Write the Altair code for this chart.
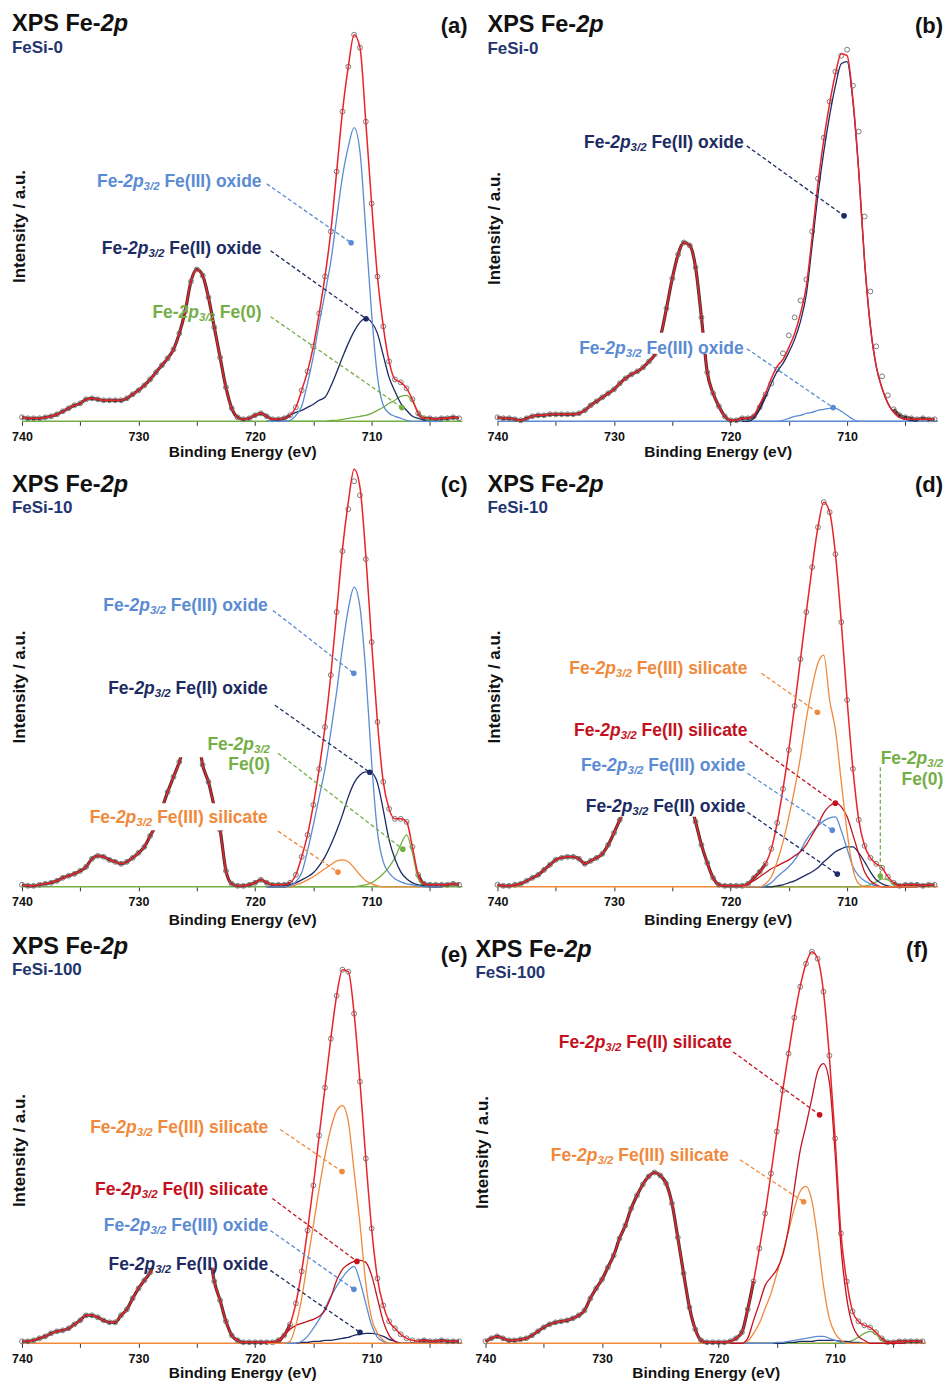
import altair as alt
import pandas as pd

W = 441
E_HI, E_LO = 740.0, 702.2
PX = W / (E_HI - E_LO)
FONT = "Liberation Sans"

ENERGY = [740.0, 739.5, 739.0, 738.5, 738.0, 737.5, 737.0, 736.5, 736.0, 735.5,
          735.0, 734.5, 734.0, 733.5, 733.0, 732.5, 732.0, 731.5, 731.0, 730.5,
          730.0, 729.5, 729.0, 728.5, 728.0, 727.5, 727.0, 726.5, 726.0, 725.5,
          725.0, 724.5, 724.0, 723.5, 723.0, 722.5, 722.0, 721.5, 721.0, 720.5,
          720.0, 719.5, 719.0, 718.5, 718.0, 717.5, 717.0, 716.5, 716.0, 715.5,
          715.0, 714.5, 714.0, 713.5, 713.0, 712.5, 712.0, 711.5, 711.0, 710.5,
          710.0, 709.5, 709.0, 708.5, 708.0, 707.5, 707.0, 706.5, 706.0, 705.5,
          705.0, 704.5, 704.0, 703.5, 703.0, 702.5]
SUB = [719.0, 718.5, 718.0, 717.5, 717.0, 716.5, 716.0, 715.5, 715.0, 714.5,
       714.0, 713.5, 713.0, 712.5, 712.0, 711.5, 711.0, 710.5, 710.0, 709.5,
       709.0, 708.5, 708.0, 707.5, 707.0, 706.5, 706.0, 705.5, 705.0, 704.5, 704.0]

# ---------------- panel (a) FeSi-0 ----------------
A_DATA = [4, 3, 3, 3, 4, 5, 7, 10, 13, 16,
          18, 22, 23, 22, 21, 21, 21, 21, 23, 27,
          31, 36, 42, 49, 56, 63, 72, 88, 110, 140,
          152, 146, 124, 94, 64, 34, 13, 4, 2, 3,
          6, 8, 5, 2, 2, 3, 6, 14, 31, 50,
          75, 108, 145, 190, 250, 310, 355, 387, 374, 300,
          218, 145, 95, 60, 42, 39, 33, 22, 8, 3,
          3, 2, 3, 3, 4, 3]
A_FE3OX = [0, 0, 0, 0, 1, 6, 15, 38, 65, 98, 128, 160, 203, 245, 275, 294,
           270, 191, 108, 45, 16, 8, 5, 3, 1, 0, 0, 0, 0, 0, 0]
A_FE2OX = [0, 0, 1, 3, 6, 9, 11, 14, 17, 21, 24, 35, 49, 64, 78, 90,
           99, 103, 99, 88, 66, 44, 30, 18, 11, 5, 3, 1, 0, 0, 0]
A_FE0 = [0, 0, 0, 0, 0, 0, 0, 0, 0, 0, 0, 1, 1, 2, 3, 4,
         5, 6, 8, 11, 14, 18, 21, 25, 26, 20, 9, 3, 1, 0, 0]

# ---------------- panel (b) FeSi-0 ----------------
B_DATA = [4, 3, 3, 2, 1, 3, 5, 6, 6, 7,
          7, 7, 7, 7, 8, 11, 16, 20, 24, 28,
          32, 38, 43, 47, 50, 54, 60, 67, 85, 113,
          143, 167, 179, 176, 154, 104, 49, 28, 15, 5,
          1, 1, 3, 3, 5, 14, 27, 38, 52, 68,
          86, 104, 121, 142, 190, 243, 284, 320, 350, 366,
          372, 336, 290, 205, 130, 75, 45, 26, 12, 6,
          4, 3, 2, 3, 2, 2]
B_ENV = [4, 3, 3, 2, 1, 3, 5, 6, 6, 7,
         7, 7, 7, 7, 8, 11, 16, 20, 24, 28,
         32, 38, 43, 47, 50, 54, 60, 67, 85, 113,
         143, 167, 179, 176, 154, 104, 49, 28, 15, 5,
         1, 1, 3, 3, 6, 17, 28, 43, 55, 62,
         74, 88, 108, 135, 185, 238, 282, 318, 348, 368,
         366, 322, 250, 160, 95, 55, 33, 18, 9, 4,
         2, 2, 2, 2, 2, 2]
B_FE2OX = [0, 0, 3, 12, 24, 38, 50, 58, 69, 82, 100, 127, 176, 227, 270, 306,
           336, 358, 360, 320, 250, 160, 95, 55, 33, 18, 9, 4, 2, 1, 0]
B_FE3OX = [0, 0, 0, 0, 0, 0, 0, 1, 3, 5, 6, 8, 9, 11, 12, 13,
           13, 10, 6, 2, 0, 0, 0, 0, 0, 0, 0, 0, 0, 0, 0]

# ---------------- panel (c) FeSi-10 ----------------
C_DATA = [2, 1, 1, 2, 3, 4, 6, 9, 11, 13,
          16, 20, 28, 31, 30, 27, 25, 23, 25, 29,
          34, 40, 51, 62, 78, 95, 110, 125, 145, 165,
          158, 122, 105, 80, 57, 16, 3, 1, 1, 2,
          4, 7, 4, 2, 2, 2, 4, 12, 30, 52,
          82, 118, 160, 212, 275, 336, 378, 406, 392, 328,
          245, 165, 105, 78, 68, 68, 65, 40, 12, 3,
          2, 2, 2, 2, 3, 2]
C_ENV = [2, 1, 1, 2, 3, 4, 6, 9, 11, 13,
         16, 20, 28, 31, 30, 27, 25, 23, 25, 29,
         34, 40, 51, 62, 78, 95, 110, 125, 145, 165,
         158, 122, 105, 80, 57, 16, 3, 1, 1, 2,
         4, 7, 4, 2, 2, 2, 4, 12, 30, 52,
         82, 118, 160, 212, 275, 338, 385, 418, 400, 332,
         245, 165, 105, 78, 68, 68, 65, 40, 12, 3,
         2, 2, 2, 2, 3, 2]
C_FE3OX = [0, 0, 0, 0, 1, 5, 14, 36, 62, 90, 118, 155, 195, 240, 278, 300,
           280, 215, 125, 55, 25, 14, 8, 5, 3, 2, 1, 0, 0, 0, 0]
C_FE2OX = [0, 0, 0, 0, 2, 4, 7, 10, 14, 21, 30, 42, 56, 72, 90, 104,
           112, 115, 114, 104, 77, 47, 28, 15, 8, 4, 2, 1, 0, 0, 0]
C_FE0 = [0, 0, 0, 0, 0, 0, 0, 0, 0, 0, 0, 0, 0, 0, 0, 0,
         1, 2, 4, 8, 13, 20, 29, 42, 52, 34, 8, 1, 0, 0, 0]
C_FE3SIL = [0, 0, 0, 0, 0, 2, 4, 7, 10, 14, 18, 22, 26, 27, 25, 19,
            12, 6, 3, 1, 0, 0, 0, 0, 0, 0, 0, 0, 0, 0, 0]

# ---------------- panel (d) FeSi-10 ----------------
D_DATA = [2, 1, 1, 2, 3, 6, 9, 12, 17, 22,
          27, 29, 30, 30, 28, 23, 26, 29, 33, 42,
          54, 67, 80, 97, 112, 130, 148, 162, 170, 172,
          166, 150, 115, 88, 65, 42, 24, 9, 2, 1,
          1, 1, 1, 3, 9, 15, 23, 38, 64, 98,
          137, 181, 228, 275, 320, 360, 385, 375, 333, 265,
          187, 118, 67, 41, 29, 23, 19, 10, 4, 1,
          2, 2, 2, 1, 2, 2]
D_FE3SIL = [0, 0, 0, 0, 3, 10, 25, 45, 70, 98, 130, 168, 200, 224, 232, 187,
            157, 105, 55, 18, 3, 0, 0, 0, 0, 0, 0, 0, 0, 0, 0]
D_FE2SIL = [0, 3, 6, 10, 14, 18, 21, 24, 27, 31, 35, 42, 52, 62, 74, 81,
            84, 80, 70, 52, 33, 15, 6, 2, 0, 0, 0, 0, 0, 0, 0]
D_FE3OX = [0, 0, 0, 0, 1, 4, 10, 15, 20, 27, 36, 47, 55, 61, 66, 69,
           70, 56, 38, 20, 11, 6, 3, 1, 0, 0, 0, 0, 0, 0, 0]
D_FE2OX = [0, 0, 0, 0, 0, 0, 1, 2, 4, 6, 9, 12, 15, 19, 25, 30,
           35, 38, 40, 40, 34, 25, 15, 7, 3, 1, 0, 0, 0, 0, 0]
D_FE0 = [0, 0, 0, 0, 0, 0, 0, 0, 0, 0, 0, 0, 0, 0, 0, 0,
         0, 0, 0, 0, 0, 1, 2, 5, 8, 7, 2, 0, 0, 0, 0]

# ---------------- panel (e) FeSi-100 ----------------
E_DATA = [2, 2, 3, 5, 7, 10, 12, 13, 15, 19,
          23, 28, 28, 26, 23, 21, 21, 28, 34, 45,
          55, 63, 71, 84, 100, 120, 140, 155, 162, 160,
          148, 125, 98, 62, 43, 22, 8, 3, 1, 1,
          1, 1, 1, 1, 3, 8, 19, 40, 72, 113,
          158, 208, 256, 305, 348, 374, 372, 330, 262, 185,
          115, 65, 38, 22, 15, 9, 5, 3, 2, 3,
          2, 2, 3, 2, 2, 2]
E_FE3SIL = [0, 0, 0, 0, 2, 18, 45, 82, 118, 155, 188, 215, 233, 238, 222, 172,
            120, 60, 25, 10, 3, 0, 0, 0, 0, 0, 0, 0, 0, 0, 0]
E_FE2SIL = [0, 0, 0, 8, 14, 18, 20, 22, 24, 27, 33, 46, 63, 74, 79, 82,
            83, 81, 68, 45, 22, 8, 2, 0, 0, 0, 0, 0, 0, 0, 0]
E_FE3OX = [0, 0, 0, 0, 0, 0, 2, 7, 15, 24, 35, 47, 57, 66, 73, 77,
           62, 40, 18, 6, 2, 0, 0, 0, 0, 0, 0, 0, 0, 0, 0]
E_FE2OX = [0, 0, 0, 0, 0, 0, 1, 1, 2, 2, 3, 3, 4, 5, 6, 8,
           9, 10, 10, 9, 7, 4, 2, 0, 0, 0, 0, 0, 0, 0, 0]

# ---------------- panel (f) FeSi-100 ----------------
F_DATA = [2, 5, 7, 5, 3, 3, 4, 5, 8, 12,
          16, 19, 21, 22, 23, 25, 28, 33, 45, 55,
          64, 76, 88, 105, 118, 135, 148, 159, 167, 171,
          168, 160, 140, 106, 70, 36, 14, 3, 1, 1,
          1, 1, 2, 5, 11, 34, 62, 95, 130, 170,
          212, 253, 290, 326, 357, 380, 392, 385, 352, 288,
          205, 110, 62, 32, 22, 18, 16, 11, 5, 1,
          1, 2, 2, 2, 2, 2]
F_FE2SIL = [0, 0, 0, 5, 23, 40, 58, 66, 74, 88, 115, 155, 193, 218, 245, 272,
            280, 262, 190, 97, 45, 18, 7, 3, 0, 0, 0, 0, 0, 0, 0]
F_FE3SIL = [0, 0, 0, 2, 10, 20, 35, 50, 70, 90, 112, 135, 152, 157, 143, 105,
            58, 25, 10, 3, 0, 0, 0, 0, 0, 0, 0, 0, 0, 0, 0]
F_FE3OX = [0, 0, 0, 0, 0, 0, 0, 0, 1, 1, 2, 3, 4, 5, 6, 7,
           7, 5, 3, 1, 0, 0, 0, 0, 0, 0, 0, 0, 0, 0, 0]
F_FE2OX = [0, 0, 0, 0, 0, 0, 0, 0, 0, 0, 1, 1, 2, 2, 2, 3,
           3, 3, 3, 2, 2, 1, 1, 0, 0, 0, 0, 0, 0, 0, 0]
F_FE0 = [0, 0, 0, 0, 0, 0, 0, 0, 0, 0, 0, 0, 0, 0, 0, 0,
         0, 0, 0, 0, 1, 3, 6, 10, 12, 9, 3, 0, 0, 0, 0]

for arr in [A_DATA, B_DATA, B_ENV, C_DATA, C_ENV, D_DATA, E_DATA, F_DATA]:
    assert len(arr) == len(ENERGY)
for arr in [A_FE3OX, A_FE2OX, A_FE0, B_FE2OX, B_FE3OX, C_FE3OX, C_FE2OX, C_FE0,
            C_FE3SIL, D_FE3SIL, D_FE2SIL, D_FE3OX, D_FE2OX, D_FE0, E_FE3SIL,
            E_FE2SIL, E_FE3OX, E_FE2OX, F_FE2SIL, F_FE3SIL, F_FE3OX, F_FE2OX, F_FE0]:
    assert len(arr) == len(SUB)

# ---------------- styles ----------------
COL = {"Fe(III) oxide": "#5b8bd3", "Fe(II) oxide": "#1c2b62", "Fe(0)": "#74af46",
       "Fe(III) silicate": "#f0893b", "Fe(II) silicate": "#c3121d"}
RED = "#e8232a"
NAVY = "#1f3670"
INK = "#111111"

CW = {' ': 278, '(': 333, ')': 333, '-': 333, '/': 278, '.': 278,
      'A': 722, 'B': 722, 'C': 722, 'D': 722, 'E': 667, 'F': 611, 'G': 778, 'H': 722,
      'I': 278, 'J': 556, 'K': 722, 'L': 611, 'M': 833, 'N': 722, 'O': 778, 'P': 667,
      'Q': 778, 'R': 722, 'S': 667, 'T': 611, 'U': 722, 'V': 667, 'W': 944, 'X': 667,
      'Y': 667, 'Z': 611, 'a': 556, 'b': 611, 'c': 556, 'd': 611, 'e': 556, 'f': 333,
      'g': 611, 'h': 611, 'i': 278, 'j': 278, 'k': 556, 'l': 278, 'm': 889, 'n': 611,
      'o': 611, 'p': 611, 'q': 611, 'r': 389, 's': 556, 't': 333, 'u': 611, 'v': 556,
      'w': 778, 'x': 556, 'y': 556, 'z': 500}


def tw(s, size):
    return sum(CW.get(ch, 556) for ch in s) * size / 1000.0


LS, SS = 17.5, 11.5
SIZES = {"n": LS, "i": LS, "s": SS}


def chem(name):
    return [("Fe-", "n"), ("2p", "i"), ("3/2", "s"), (" " + name, "n")]


FE0_L1 = [("Fe-", "n"), ("2p", "i"), ("3/2", "s")]
FE0_L2 = [("Fe(0)", "n")]


def label_rows(tokens, e_right, h, color):
    total = sum(tw(t, SIZES[st]) for t, st in tokens)
    cur = -total
    rows = []
    for t, st in tokens:
        s = t.lstrip(" ")
        lead = tw(t[: len(t) - len(s)], SIZES[st])
        rows.append(dict(x=e_right - (cur + lead) / PX, y=h, t=s, c=color,
                         s=SIZES[st], st=st))
        cur += tw(t, SIZES[st])
    return rows


def seq_rows(tokens, left_px, rel_y, H):
    # left_px is measured from the 740 eV position
    rows = []
    cur = left_px
    for t, st, size, color in tokens:
        rows.append(dict(x=E_HI - cur / PX, y=H - rel_y, t=t, c=color, s=size, st=st))
        cur += tw(t, size)
    return rows


def title_rows(H, ty, sample, sy, tag, tag_right, tagy):
    rows = seq_rows([("XPS Fe-", "n", 23.5, INK), ("2p", "i", 23.5, INK)], -10, ty, H)
    rows += seq_rows([(sample, "n", 17, NAVY)], -10, sy, H)
    rows += seq_rows([(tag, "n", 22, INK)], tag_right - tw(tag, 22), tagy, H)
    return rows


def make_panel(H, data, env, comps, base_color, labels, leaders, occ, tp,
               titles, ytitle_y, lead=0):
    e_left = E_HI + lead / PX
    xs = alt.Scale(domain=[E_LO, e_left], reverse=True, nice=False, zero=False)
    ys = alt.Scale(domain=[0, H], nice=False, zero=False)
    xa = alt.Axis(values=[740, 735, 730, 725, 720, 715, 710, 705],
                  labelExpr="datum.value % 10 == 0 ? datum.label : ''",
                  title="Binding Energy (eV)", grid=False, domain=False, tickSize=4,
                  tickColor="#333333", labelFont=FONT,
                  labelFontSize=12.5, labelFontWeight="bold", labelColor=INK,
                  labelPadding=5, labelFlush=False, labelOverlap=False,
                  titleFont=FONT, titleFontSize=15.5, titleFontWeight="bold",
                  titleColor=INK, titlePadding=tp, titleX=lead + W / 2)

    def X(f):
        return alt.X(f, type="quantitative", scale=xs, axis=xa)

    def Y(f):
        return alt.Y(f, type="quantitative", scale=ys, axis=None)

    meas = pd.DataFrame({"E": ENERGY, "h": data})
    envdf = pd.DataFrame({"E": ENERGY, "h": env})
    crow = []
    for name, vals in comps:
        for e, v in zip(SUB, vals):
            crow.append(dict(E=e, h=v, comp=name, c=COL[name]))
    compdf = pd.DataFrame(crow)

    layers = []
    layers.append(
        alt.Chart(pd.DataFrame({"x1": [E_HI], "x2": [E_LO], "y": [0]}))
        .mark_rule(color=base_color, strokeWidth=1.4)
        .encode(x=X("x1"), x2="x2", y=Y("y")))
    layers.append(
        alt.Chart(meas)
        .transform_calculate(seg="datum.E >= 717 ? 'L' : (datum.E <= 706 ? 'R' : 'M')")
        .transform_filter("datum.seg != 'M'")
        .mark_line(color="#4a3232", strokeWidth=3.2, interpolate="monotone")
        .encode(x=X("E"), y=Y("h"), detail="seg:N"))
    layers.append(
        alt.Chart(meas)
        .mark_point(shape="circle", filled=False, size=24, color="#7a7a7a",
                    strokeWidth=1, opacity=1)
        .encode(x=X("E"), y=Y("h")))
    layers.append(
        alt.Chart(compdf)
        .mark_line(strokeWidth=1.3, interpolate="monotone")
        .encode(x=X("E"), y=Y("h"), color=alt.Color("c:N", scale=None),
                detail="comp:N"))
    layers.append(
        alt.Chart(envdf)
        .mark_line(color=RED, strokeWidth=1.5, interpolate="monotone")
        .encode(x=X("E"), y=Y("h")))
    if occ:
        occdf = pd.DataFrame(occ, columns=["x1", "x2", "y1", "y2"])
        layers.append(
            alt.Chart(occdf).mark_rect(color="white", opacity=1)
            .encode(x=X("x1"), x2="x2", y=Y("y1"), y2="y2"))
    leaddf = pd.DataFrame(leaders, columns=["x1", "y1", "x2", "y2", "c"])
    layers.append(
        alt.Chart(leaddf).mark_rule(strokeDash=[4, 2.5], strokeWidth=1.3)
        .encode(x=X("x1"), x2="x2", y=Y("y1"), y2="y2",
                color=alt.Color("c:N", scale=None)))
    layers.append(
        alt.Chart(leaddf).mark_circle(size=32, opacity=1)
        .encode(x=X("x2"), y=Y("y2"), color=alt.Color("c:N", scale=None)))

    trows = []
    for tokens, er, h, color in labels:
        trows += label_rows(tokens, er, h, color)
    trows += titles
    tdf = pd.DataFrame(trows)
    for st, style, dy in [("n", "normal", 0), ("i", "italic", 0), ("s", "italic", 5)]:
        sub = tdf[tdf["st"] == st]
        if len(sub) == 0:
            continue
        layers.append(
            alt.Chart(sub)
            .mark_text(align="left", baseline="middle", font=FONT, fontWeight="bold",
                       fontStyle=style, dy=dy)
            .encode(x=X("x"), y=Y("y"), text="t:N",
                    color=alt.Color("c:N", scale=None),
                    size=alt.Size("s:Q", scale=None)))
    layers.append(
        alt.Chart(pd.DataFrame({"t": ["Intensity / a.u."]}))
        .mark_text(angle=270, align="center", baseline="middle", font=FONT,
                   fontWeight="bold", fontSize=17, color=INK)
        .encode(text="t:N", x=alt.value(lead - 2), y=alt.value(ytitle_y)))
    return alt.layer(*layers).properties(width=W + lead, height=H)


C3, C2, C0 = COL["Fe(III) oxide"], COL["Fe(II) oxide"], COL["Fe(0)"]
S3, S2 = COL["Fe(III) silicate"], COL["Fe(II) silicate"]

H1, H2, H3 = 413, 422, 413

pa = make_panel(
    H1, A_DATA, A_DATA,
    [("Fe(0)", A_FE0), ("Fe(II) oxide", A_FE2OX), ("Fe(III) oxide", A_FE3OX)],
    C0,
    [(chem("Fe(III) oxide"), 719.44, 239.7, C3),
     (chem("Fe(II) oxide"), 719.44, 172.2, C2),
     (chem("Fe(0)"), 719.44, 108.2, C0)],
    [(719.0, 237.7, 711.76, 178.7, C3),
     (718.67, 170.7, 710.48, 102.7, C2),
     (718.67, 104.7, 707.4, 13.7, C0)],
    [], 1.5, title_rows(H1, 15, "FeSi-0", 39, "(a)", 446, 17), 218)

pb = make_panel(
    H1, B_DATA, B_ENV,
    [("Fe(III) oxide", B_FE3OX), ("Fe(II) oxide", B_FE2OX)],
    C3,
    [(chem("Fe(II) oxide"), 718.87, 278.2, C2),
     (chem("Fe(III) oxide"), 718.87, 72.7, C3)],
    [(718.61, 275.7, 710.26, 205.7, C2),
     (718.61, 72.7, 711.2, 13.7, C3)],
    [(733.4, 718.9, 67.7, 88.7)], 1.5,
    title_rows(H1, 16, "FeSi-0", 40, "(b)", 446, 17), 220, lead=12)

pc = make_panel(
    H2, C_DATA, C_ENV,
    [("Fe(0)", C_FE0), ("Fe(III) silicate", C_FE3SIL), ("Fe(II) oxide", C_FE2OX),
     ("Fe(III) oxide", C_FE3OX)],
    C0,
    [(chem("Fe(III) oxide"), 718.9, 281, C3),
     (chem("Fe(II) oxide"), 718.9, 197.7, C2),
     (FE0_L1, 718.72, 141.7, C0),
     (FE0_L2, 718.72, 122.2, C0),
     (chem("Fe(III) silicate"), 718.9, 69.2, S3)],
    [(718.47, 276.7, 711.53, 213.7, C3),
     (718.3, 181.7, 710.16, 114.7, C2),
     (718.03, 133.7, 707.32, 37.7, C0),
     (718.03, 55.7, 712.89, 14.7, S3)],
    [(734.6, 718.55, 56.7, 83.7), (733.3, 718.55, 129.7, 190)], 4.5,
    title_rows(H2, 20, "FeSi-10", 43, "(c)", 446, 20), 222)

pd_ = make_panel(
    H2, D_DATA, D_DATA,
    [("Fe(0)", D_FE0), ("Fe(II) oxide", D_FE2OX), ("Fe(III) oxide", D_FE3OX),
     ("Fe(II) silicate", D_FE2SIL), ("Fe(III) silicate", D_FE3SIL)],
    S3,
    [(chem("Fe(III) silicate"), 718.55, 217.7, S3),
     (chem("Fe(II) silicate"), 718.55, 155.7, S2),
     (chem("Fe(III) oxide"), 718.72, 120.7, C3),
     (chem("Fe(II) oxide"), 718.72, 80, C2),
     (FE0_L1, 701.75, 127.7, C0),
     (FE0_L2, 701.75, 106.7, C0)],
    [(717.35, 213.7, 712.55, 174.7, S3),
     (718.38, 145.7, 711.01, 83.7, S2),
     (718.55, 113.7, 711.27, 56.7, C3),
     (718.55, 74.7, 710.84, 12.7, C2),
     (707.15, 119.7, 707.15, 10.7, C0)],
    [(734.7, 718.4, 70, 182)], 4.5,
    title_rows(H2, 20, "FeSi-10", 43, "(d)", 446, 20), 222, lead=12)

pe = make_panel(
    H3, E_DATA, E_DATA,
    [("Fe(II) oxide", E_FE2OX), ("Fe(III) oxide", E_FE3OX),
     ("Fe(II) silicate", E_FE2SIL), ("Fe(III) silicate", E_FE3SIL)],
    S3,
    [(chem("Fe(III) silicate"), 718.86, 216, S3),
     (chem("Fe(II) silicate"), 718.86, 153, S2),
     (chem("Fe(III) oxide"), 718.86, 117.5, C3),
     (chem("Fe(II) oxide"), 718.86, 78, C2)],
    [(717.84, 214, 712.54, 172, S3),
     (718.52, 145, 711.26, 82, S2),
     (718.69, 113, 711.52, 54, C3),
     (718.69, 73, 711.0, 11, C2)],
    [(734.5, 718.5, 76, 200)], 1,
    title_rows(H3, 16, "FeSi-100", 39, "(e)", 446, 24), 220)

pf = make_panel(
    H3, F_DATA, F_DATA,
    [("Fe(0)", F_FE0), ("Fe(II) oxide", F_FE2OX), ("Fe(III) oxide", F_FE3OX),
     ("Fe(III) silicate", F_FE3SIL), ("Fe(II) silicate", F_FE2SIL)],
    S3,
    [(chem("Fe(II) silicate"), 718.84, 300.7, S2),
     (chem("Fe(III) silicate"), 719.1, 187.7, S3)],
    [(718.75, 291.7, 711.33, 228.7, S2),
     (718.16, 183.7, 712.7, 141.7, S3)],
    [], 1,
    title_rows(H3, 19, "FeSi-100", 42, "(f)", 443, 19), 222)

chart = (
    alt.concat(pa, pb, pc, pd_, pe, pf, columns=2,
               spacing={"row": 44, "column": 23}, bounds="flush")
    .properties(padding={"left": 3, "top": 0, "right": 0, "bottom": 0},
                background="white")
    .configure_view(stroke=None)
)

chart.save("out.html", embed_options={"renderer": "svg", "actions": False})
